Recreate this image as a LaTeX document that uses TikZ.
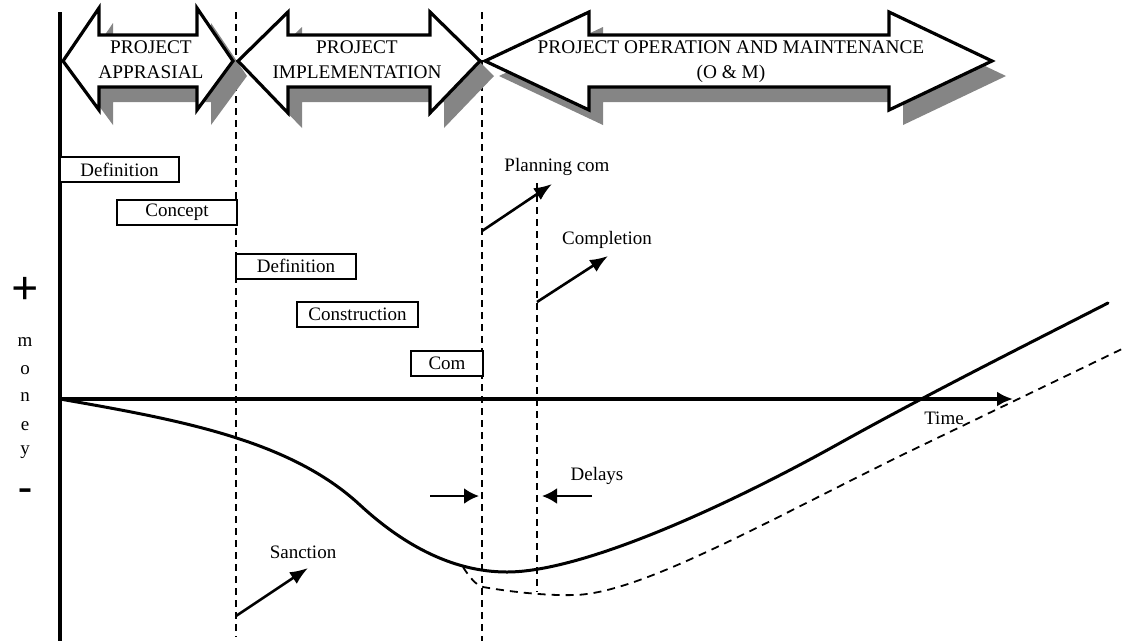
\documentclass[tikz,border=0pt]{standalone}
\usepackage{fontspec}
\setmainfont{Liberation Serif}
\usetikzlibrary{arrows.meta}
\definecolor{shadowgray}{HTML}{858585}
\newcommand\dblblock[6]{%
  \fill[shadowgray, shift={(14,15)}] (#1,61) -- (#2,#5) -- (#2,35) -- (#3,35) -- (#3,#5) -- (#4,61) -- (#3,#6) -- (#3,87) -- (#2,87) -- (#2,#6) -- cycle;
}
\newcommand\dblline[6]{%
  \draw[blockline, fill=white] (#1,61) -- (#2,#5) -- (#2,35) -- (#3,35) -- (#3,#5) -- (#4,61) -- (#3,#6) -- (#3,87) -- (#2,87) -- (#2,#6) -- cycle;
}
\begin{document}
\begin{tikzpicture}[x=1pt,y=-1pt,
  axisline/.style={line width=3.4pt},
  guide/.style={line width=1.8pt, dash pattern=on 7pt off 5pt},
  phasebox/.style={draw, line width=2pt, fill=white, minimum height=25pt, inner sep=0pt, font=\fontsize{19}{21}\selectfont},
  lbl/.style={font=\fontsize{19}{21}\selectfont, inner sep=0pt},
  headtxt/.style={font=\fontsize{19.3}{25}\selectfont, align=center, inner sep=0pt},
  pointer/.style={line width=2.6pt, -{Latex[length=18pt,width=14pt]}},
  delay/.style={line width=2.6pt, -{Latex[length=15pt,width=16pt]}},
  curve/.style={line width=3pt},
  blockline/.style={line width=3.2pt, line join=miter},
  ]
\useasboundingbox (0,0) rectangle (1124,641);

% guide lines
\coordinate (g1t) at (236,12);  \coordinate (g1b) at (236,637);
\coordinate (g2t) at (482,12);  \coordinate (g2b) at (482,641);
\coordinate (g3t) at (537,183); \coordinate (g3b) at (537,592);
\draw[guide] (g1t) -- (g1b);
\draw[guide] (g2t) -- (g2b);
\draw[guide] (g3t) -- (g3b);

% block arrows
\dblblock{63}{99}{197}{233}{8}{110}
\dblblock{238}{288}{430}{480}{12}{113}
\dblblock{485}{589}{889}{992}{12}{110}
\dblline{63}{99}{197}{233}{8}{110}
\dblline{238}{288}{430}{480}{12}{113}
\dblline{485}{589}{889}{992}{12}{110}
\node[headtxt] (pa) at (151,60) {PROJECT\\APPRASIAL};
\node[headtxt] (pi) at (357,60) {PROJECT\\IMPLEMENTATION};
\node[headtxt] (po) at (731,62) {PROJECT OPERATION AND MAINTENANCE\\(O \& M)};

% axes
\coordinate (Ytop) at (60,12); \coordinate (Ybot) at (60,641);
\coordinate (O) at (60,399); \coordinate (T) at (1013,399);
\draw[axisline] (Ytop) -- (Ybot);
\draw[axisline, -{Latex[length=16pt,width=15pt]}] (O) -- (T);

% phase boxes
\node[phasebox, minimum width=119pt] (def1) at (119.5,169.5) {Definition};
\node[phasebox, minimum width=120pt] (conc) at (177,212) {Concept};
\node[phasebox, minimum width=120pt] (def2) at (296,266) {Definition};
\node[phasebox, minimum width=121pt] (cons) at (357.5,314.5) {Construction};
\node[phasebox, minimum width=72pt] (com) at (447,363.5) {Com};

% curves
\draw[curve, line cap=round] (O) .. controls (180,420) and (290,440) .. (360,505)
  .. controls (400,542) and (450,572) .. (507,572)
  .. controls (580,572) and (720,510) .. (840,443)
  .. controls (930,393) and (1020,348) .. (1108,303);
\draw[line width=1.8pt, dash pattern=on 8pt off 6pt] (463,567) .. controls (470,578) and (476,585) .. (483,587)
  .. controls (500,590) and (540,596) .. (575,595)
  .. controls (640,593) and (760,525) .. (900,456)
  -- (1124,348);

% labels and pointers
\node[lbl] (plan) at (557,167) {Planning com};
\coordinate (plan0) at (482,231); \coordinate (plan1) at (552,184);
\draw[pointer] (plan0) -- (plan1);
\node[lbl] (compl) at (607,240) {Completion};
\coordinate (comp0) at (537,302); \coordinate (comp1) at (608,256);
\draw[pointer] (comp0) -- (comp1);
\node[lbl] (sanc) at (303,552) {Sanction};
\coordinate (sanc0) at (236,616); \coordinate (sanc1) at (308,568);
\draw[pointer] (sanc0) -- (sanc1);
\node[lbl] (del) at (597,476) {Delays};
\coordinate (dl0) at (430,496); \coordinate (dl1) at (479,496);
\coordinate (dr0) at (592,496); \coordinate (dr1) at (542,496);
\draw[delay] (dl0) -- (dl1);
\draw[delay] (dr0) -- (dr1);
\node[lbl] (time) at (944,418) {Time};

% money axis label
\node[inner sep=0pt, font=\fontsize{48}{48}\selectfont\bfseries] (plus) at (25,291) {+};
\node[lbl] (m1) at (25,342) {m};
\node[lbl] (m2) at (25,370) {o};
\node[lbl] (m3) at (25,397) {n};
\node[lbl] (m4) at (25,426) {e};
\node[lbl] (m5) at (25,452) {y};
\node[inner sep=0pt, font=\fontsize{42}{42}\selectfont\bfseries] (minus) at (25,495) {-};
\end{tikzpicture}
\end{document}
